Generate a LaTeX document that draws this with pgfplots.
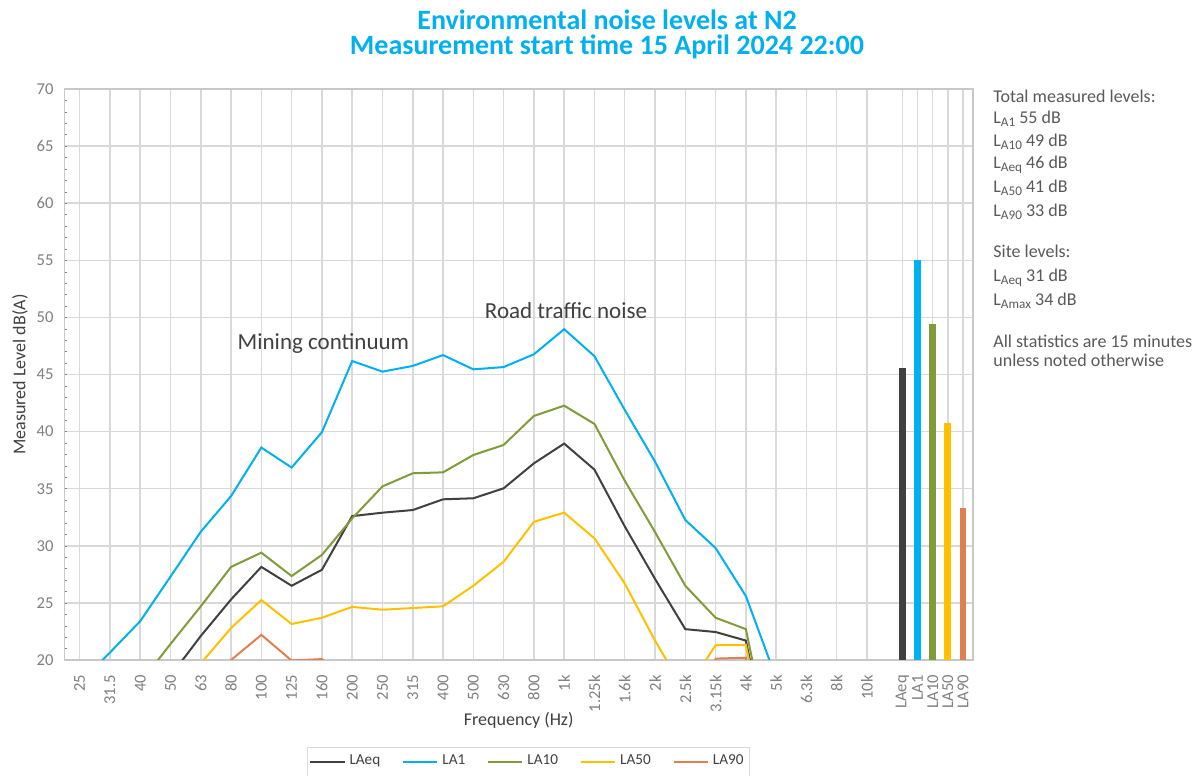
\documentclass[border=0pt]{standalone}
\usepackage{fontspec}
\setmainfont{Carlito}
\usepackage{pgfplots}
\pgfplotsset{compat=1.18}
\definecolor{cEq}{HTML}{404040}
\definecolor{cA1}{HTML}{00B0F0}
\definecolor{cA10}{HTML}{809C3A}
\definecolor{cA50}{HTML}{FFC000}
\definecolor{cA90}{HTML}{E07F4F}
\definecolor{gridc}{HTML}{D9D9D9}
\definecolor{axisc}{HTML}{C8C8C8}
\definecolor{tickc}{HTML}{7F7F7F}
\definecolor{txtc}{HTML}{595959}
\definecolor{titc}{HTML}{00B0F0}
\newcommand{\Ls}[1]{L\raisebox{-0.3ex}{\fontsize{6.6pt}{7pt}\selectfont #1}}
\begin{document}
\begin{tikzpicture}
\path[use as bounding box] (0,0) rectangle (598pt,388pt);
\begin{axis}[
  at={(32.25pt,58pt)}, anchor=south west,
  scale only axis, width=454.25pt, height=285.5pt,
  xmin=-0.5, xmax=29.5, ymin=20, ymax=70,
  ytick={20,25,...,70}, minor y tick num=4,
  xtick={0,...,26,27.17,27.67,28.17,28.67,29.17},
  xticklabels={25,31.5,40,50,63,80,100,125,160,200,250,315,400,500,630,800,1k,1.25k,1.6k,2k,2.5k,3.15k,4k,5k,6.3k,8k,10k,LAeq,LA1,LA10,LA50,LA90},
  xticklabel style={rotate=90, anchor=east, xshift=-4pt, font=\fontsize{8.3pt}{9pt}\selectfont, text=tickc},
  yticklabel style={/pgf/number format/assume math mode=true, font=\fontsize{8.3pt}{9pt}\selectfont, text=tickc, xshift=-2pt},
  xmajorgrids, ymajorgrids,
  grid style={gridc, line width=0.75pt},
  axis line style={axisc, line width=0.75pt},
  xtick style={draw=none},
  ytick pos=left, tick align=inside,
  major tick length=1.2pt, minor tick length=1.2pt,
  ytick style={tickc}, minor tick style={tickc},
  xlabel={Frequency (Hz)},
  ylabel={Measured Level dB(A)},
  label style={font=\fontsize{9pt}{10pt}\selectfont, text=cEq},
  x label style={at={(axis description cs:0.5,-0.105)}, anchor=center},
  y label style={at={(axis description cs:-0.049,0.5)}, anchor=center},
  no markers,
  legend columns=5,
  legend style={at={(axis description cs:0.5107,-0.1778)}, anchor=center,
    draw=gridc, font=\fontsize{7.6pt}{8pt}\selectfont, text=cEq,
    inner xsep=1pt,
    /tikz/every even column/.append style={column sep=9pt}},
]
\addplot[cEq, line width=1pt] coordinates {
(0,10) (1,12) (2,15) (3,18.6) (4,22.1) (5,25.3) (6,28.15) (7,26.5) (8,27.9) (9,32.6)
(10,32.9) (11,33.13) (12,34.07) (13,34.16) (14,35.03) (15,37.22) (16,38.95) (17,36.67)
(18,31.7) (19,27.1) (20,22.7) (21,22.45) (22,21.7) (23,9)};
\addlegendentry{LAeq}
\addplot[cA1, line width=1pt] coordinates {
(0,18.0) (1,20.65) (2,23.4) (3,27.3) (4,31.23) (5,34.35) (6,38.6) (7,36.85) (8,39.95) (9,46.18)
(10,45.25) (11,45.75) (12,46.7) (13,45.45) (14,45.65) (15,46.77) (16,48.97) (17,46.6)
(18,41.9) (19,37.37) (20,32.26) (21,29.8) (22,25.6) (23,18.4)};
\addlegendentry{LA1}
\addplot[cA10, line width=1pt] coordinates {
(0,12) (1,14) (2,18.0) (3,21.4) (4,24.7) (5,28.15) (6,29.4) (7,27.35) (8,29.2) (9,32.4)
(10,35.2) (11,36.35) (12,36.43) (13,37.95) (14,38.83) (15,41.37) (16,42.27) (17,40.67)
(18,35.7) (19,31.2) (20,26.5) (21,23.7) (22,22.7) (23,10)};
\addlegendentry{LA10}
\addplot[cA50, line width=1pt] coordinates {
(0,10) (1,10) (2,10) (3,16.6) (4,19.7) (5,22.8) (6,25.25) (7,23.15) (8,23.7) (9,24.65)
(10,24.4) (11,24.55) (12,24.7) (13,26.5) (14,28.6) (15,32.1) (16,32.9) (17,30.65)
(18,26.7) (19,21.7) (20,17.2) (21,21.3) (22,21.3) (23,8)};
\addlegendentry{LA50}
\addplot[cA90, line width=1pt] coordinates {
(0,10) (1,10) (2,10) (3,10) (4,17) (5,20.0) (6,22.2) (7,19.95) (8,20.08) (9,18)
(10,12) (11,12) (12,12) (13,12) (14,12) (15,12) (16,12) (17,12)
(18,12) (19,12) (20,10) (21,20.12) (22,20.2) (23,8)};
\addlegendentry{LA90}
\addplot[ybar, bar width=3.4pt, bar shift=0pt, fill=cEq, draw=none, forget plot] coordinates {(27.17,45.6)};
\addplot[ybar, bar width=3.4pt, bar shift=0pt, fill=cA1, draw=none, forget plot] coordinates {(27.67,55.0)};
\addplot[ybar, bar width=3.4pt, bar shift=0pt, fill=cA10, draw=none, forget plot] coordinates {(28.17,49.4)};
\addplot[ybar, bar width=3.4pt, bar shift=0pt, fill=cA50, draw=none, forget plot] coordinates {(28.67,40.75)};
\addplot[ybar, bar width=3.4pt, bar shift=0pt, fill=cA90, draw=none, forget plot] coordinates {(29.17,33.35)};
\node[font=\fontsize{11.5pt}{12pt}\selectfont, text=cEq] at (axis cs:8.05,47.67) {Mining continuum};
\node[font=\fontsize{11.5pt}{12pt}\selectfont, text=cEq] at (axis cs:16.06,50.56) {Road traffic noise};
\end{axis}
\node[font=\fontsize{14pt}{16pt}\selectfont\bfseries, text=titc] at (303.5pt,378pt) {Environmental noise levels at N2};
\node[font=\fontsize{14pt}{16pt}\selectfont\bfseries, text=titc] at (303.5pt,364.5pt) {Measurement start time 15 April 2024 22:00};
\begin{scope}[every node/.style={anchor=base west, inner sep=0pt, font=\fontsize{9pt}{11pt}\selectfont, text=txtc}]
\node at (496.5pt,336.5pt) {Total measured levels:};
\node at (496.5pt,326pt) {\Ls{A1} 55 dB};
\node at (496.5pt,314.5pt) {\Ls{A10} 49 dB};
\node at (496.5pt,303.5pt) {\Ls{Aeq} 46 dB};
\node at (496.5pt,291.5pt) {\Ls{A50} 41 dB};
\node at (496.5pt,279.5pt) {\Ls{A90} 33 dB};
\node at (496.5pt,259pt) {Site levels:};
\node at (496.5pt,247pt) {\Ls{Aeq} 31 dB};
\node at (496.5pt,235pt) {\Ls{Amax} 34 dB};
\node at (496.5pt,214pt) {All statistics are 15 minutes};
\node at (496.5pt,204.5pt) {unless noted otherwise};
\end{scope}
\end{tikzpicture}
\end{document}
